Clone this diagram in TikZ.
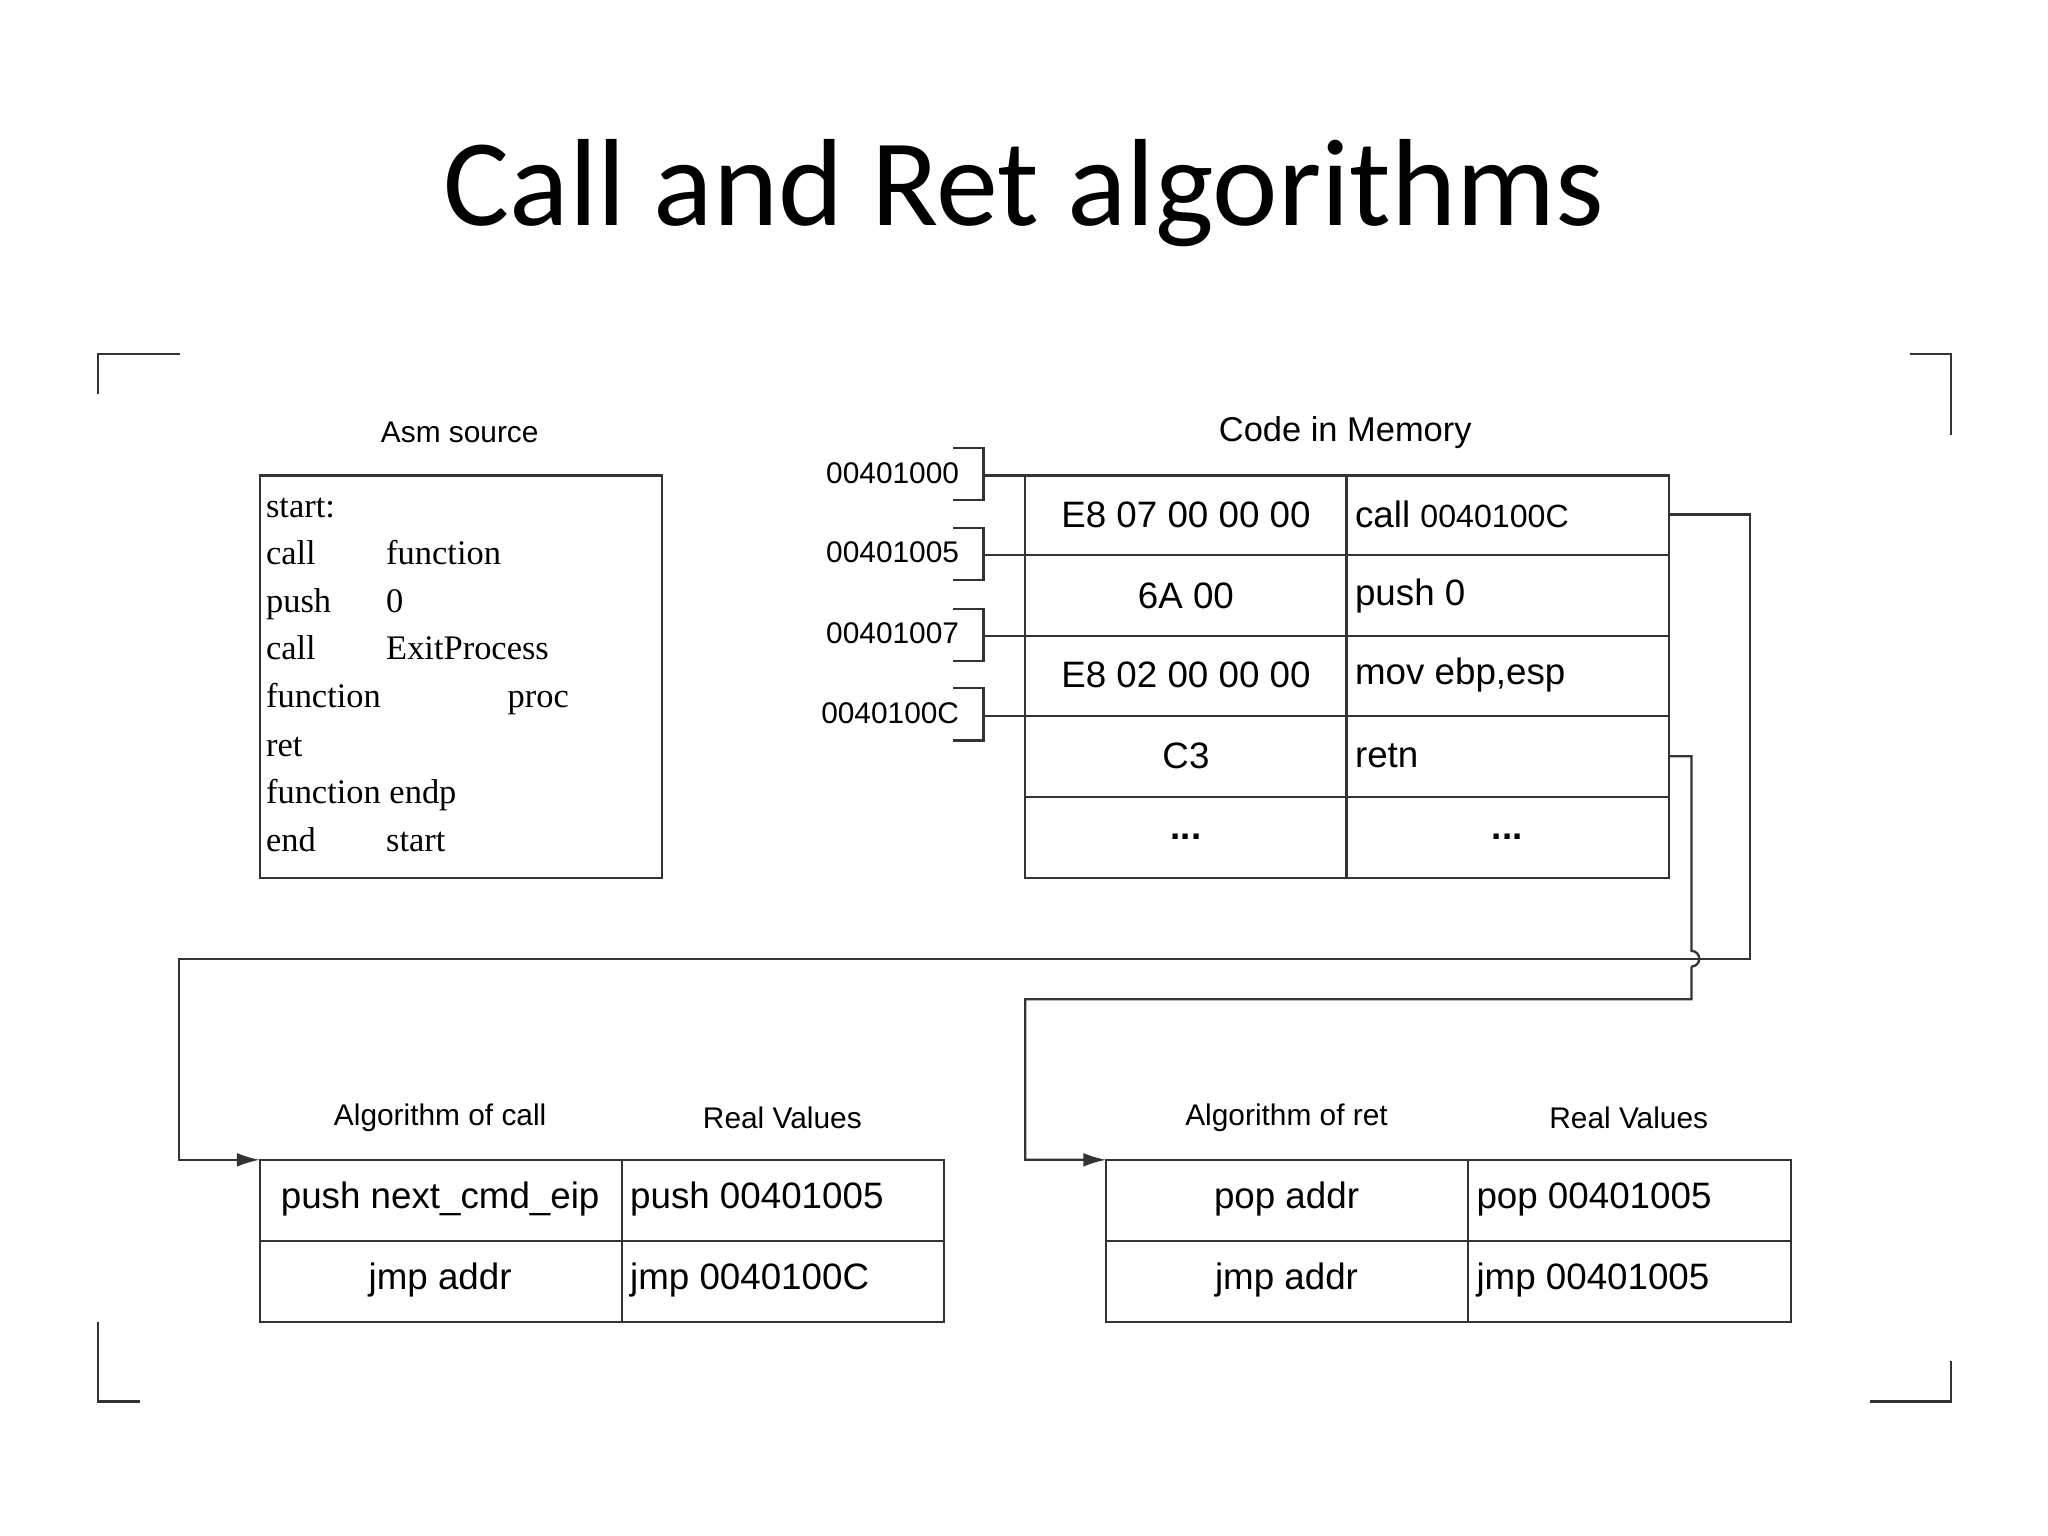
\documentclass[tikz,border=0pt]{standalone}
\usepackage{fontspec}
\setmainfont{Liberation Serif}
\newfontfamily\arialf{Liberation Sans}
\newfontfamily\calf{Carlito}
\usetikzlibrary{arrows.meta}
\begin{document}
\begin{tikzpicture}[x=0.01cm,y=-0.01cm,
  ln/.style={draw=black!80,line width=0.5pt},
  cell/.style={font=\arialf\fontsize{8}{9}\selectfont},
  wcell/.style={cell,anchor=west,inner sep=0.5pt},
  lab/.style={font=\arialf\fontsize{6.5}{8}\selectfont},
  asm/.style={font=\fontsize{7.5}{9}\selectfont,anchor=base west,inner sep=0pt},
  conn/.style={draw=black!80,line width=0.5pt},
  arr/.style={conn,-{Latex[length=5pt,width=3pt]}}]
\useasboundingbox (0,0) rectangle (1568,1176);
\node[font=\calf\fontsize{27}{32}\selectfont] (title) at (784,148) {Call and Ret algorithms};
% corner brackets
\draw[ln] (75,302)--(75,271)--(138,271);
\draw[ln] (1462,271)--(1494,271)--(1494,333);
\draw[ln] (75,1012)--(75,1073)--(107,1073);
\draw[ln] (1432,1073)--(1494,1073)--(1494,1042);
% asm source
\node[lab] (asml) at (352,331) {Asm source};
\draw[ln] (199,364) rectangle (507,672);
\foreach \y/\a/\b in {396/start:/,432/call/function,469/push/0,505/call/ExitProcess,542/function/,579/ret/,615/function endp/,652/end/start}{
  \node[asm] at (203,\y) {\a};
  \node[asm] at (295,\y) {\b};
}
\node[asm] (proc) at (388,542) {proc};
% code in memory
\node[font=\arialf\fontsize{7.5}{9}\selectfont] (cml) at (1030,331) {Code in Memory};
\draw[ln] (785,364) rectangle (1278,672);
\draw[ln] (1031,364)--(1031,672);
\foreach \y in {425,487,548,610} \draw[ln] (785,\y)--(1278,\y);
\node[cell] (c1a) at (908,394) {E8 07 00 00 00};
\node[wcell] (c1b) at (1035,394) {call {\fontsize{7}{8}\selectfont 0040100C}};
\node[cell] (c2a) at (908,456) {6A 00};
\node[wcell] (c2b) at (1035,456) {push 0};
\node[cell] (c3a) at (908,517) {E8 02 00 00 00};
\node[wcell] (c3b) at (1035,517) {mov ebp,esp};
\node[cell] (c4a) at (908,579) {C3};
\node[wcell] (c4b) at (1035,579) {retn};
\node[cell] (c5a) at (908,641) {\textbf{...}};
\node[cell] (c5b) at (1154,641) {\textbf{...}};
% addresses
\foreach \y/\t/\n in {364/00401000/a1,425/00401005/a2,487/00401007/a3,548/0040100C/a4}{
  \node[lab,anchor=east,inner sep=0pt] (\n) at (735,\y-2) {\t};
  \draw[ln] (730,\y-21)--(753,\y-21)--(753,\y+19)--(730,\y+19);
  \draw[ln] (753,\y)--(785,\y);
}
% call table
\node[lab] (alc) at (337,856) {Algorithm of call};
\node[lab] (rv1) at (599,856) {Real Values};
\draw[ln] (199,888) rectangle (723,1012);
\draw[ln] (476,888)--(476,1012); \draw[ln] (199,950)--(723,950);
\node[cell] (p1) at (337,918) {push next\_cmd\_eip};
\node[wcell] (p2) at (480,918) {push 00401005};
\node[cell] (j1) at (337,980) {jmp addr};
\node[wcell] (j2) at (480,980) {jmp 0040100C};
% ret table
\node[lab] (alr) at (985,856) {Algorithm of ret};
\node[lab] (rv2) at (1247,856) {Real Values};
\draw[ln] (847,888) rectangle (1371,1012);
\draw[ln] (1124,888)--(1124,1012); \draw[ln] (847,950)--(1371,950);
\node[cell] (r1) at (985,918) {pop addr};
\node[wcell] (r2) at (1128,918) {pop 00401005};
\node[cell] (r3) at (985,980) {jmp addr};
\node[wcell] (r4) at (1128,980) {jmp 00401005};
% connectors
\draw[arr] (1278,394)--(1340,394)--(1340,734)--(137,734)--(137,888)--(199,888);
\draw[arr] (1278,579)--(1295,579)--(1295,728) arc[start angle=-90,end angle=90,radius=6] (1295,740)--(1295,765)--(785,765)--(785,888)--(847,888);
\end{tikzpicture}
\end{document}
